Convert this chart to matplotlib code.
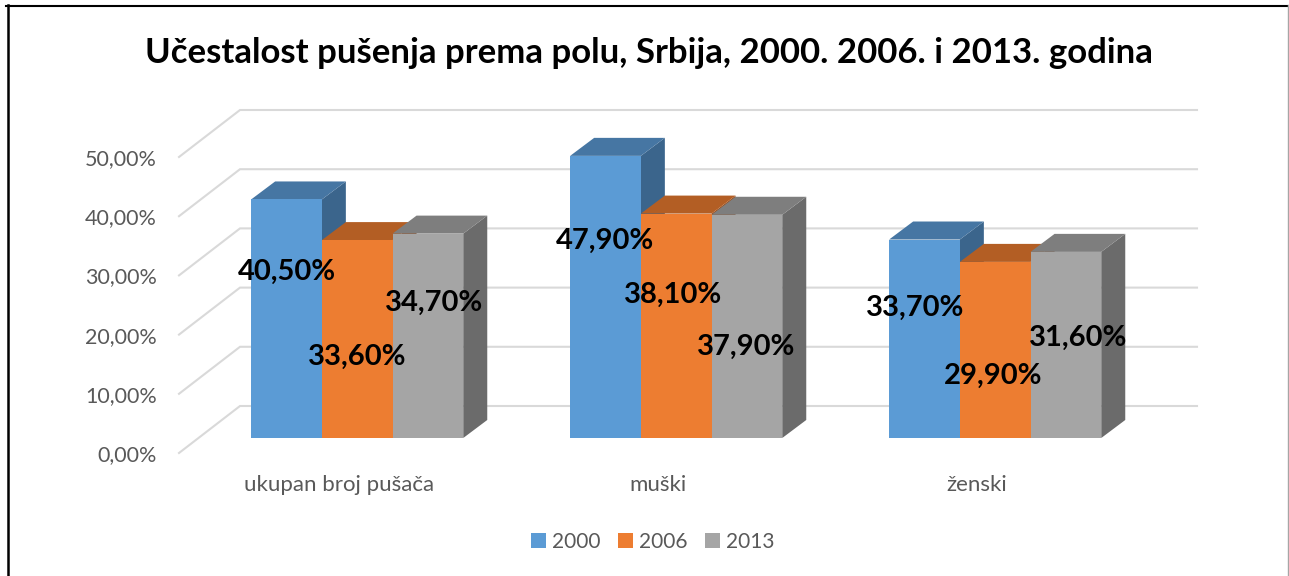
import matplotlib
matplotlib.use("Agg")
import matplotlib.pyplot as plt
from matplotlib.lines import Line2D

W, H = 1289, 576

categories = ['ukupan broj pušača', 'muški', 'ženski']
years = ['2000', '2006', '2013']
values_2000 = [40.5, 47.9, 33.7]
values_2006 = [33.6, 38.1, 29.9]
values_2013 = [34.7, 37.9, 31.6]
y_ticks = [0, 10, 20, 30, 40, 50]
# data labels were placed by hand in the original, pixel centres
label_px_2000 = [(287, 272), (605, 241), (915, 308)]
label_px_2006 = [(357, 357), (673, 295), (993, 376)]
label_px_2013 = [(434, 303), (746, 347), (1078, 338)]

plt.rcParams['font.family'] = ['Lato', 'DejaVu Sans']

front = ['#5B9BD5', '#ED7D31', '#A5A5A5']
top = ['#4676A3', '#B35E24', '#7E7E7E']
side = ['#3B658C', '#9A5020', '#6B6B6B']
GREY_TEXT = '#595959'
GRID = '#D9D9D9'

PX_X = 319.0   # pixels per category
PX_Y = 5.89    # pixels per percent, bars
PX_Y_WALL = 5.92
X0 = 357.2     # pixel of category 0
LEFT, RIGHT = 179, 1197


def box(bottom_px, scale):
    return [LEFT / W, 1 - bottom_px / H, (RIGHT - LEFT) / W, 60 * scale / H]


def x_lim():
    return (LEFT - X0) / PX_X, (RIGHT - X0) / PX_X


fig = plt.figure(figsize=(W / 100, H / 100), dpi=100, facecolor='white')

# back wall and the axis labels
wall = fig.add_axes(box(453, PX_Y_WALL))
wall.set_xlim(*x_lim())
wall.set_ylim(0, 60)
wall.patch.set_visible(False)
for s in wall.spines.values():
    s.set_visible(False)
depth_x = 61 / PX_X
depth_y = 47 / PX_Y_WALL
x_left = x_lim()[0]
x_right = x_lim()[1]
for t in y_ticks:
    wall.plot([x_left, x_left + depth_x, x_right], [t, t + depth_y, t + depth_y],
              color=GRID, lw=1.5, clip_on=False, solid_joinstyle='miter')
wall.set_yticks(y_ticks)
wall.set_yticklabels([f'{t:.2f}'.replace('.', ',') + '%' for t in y_ticks],
                     fontsize=15.5, color=GREY_TEXT)
wall.set_xticks([i - 18.5 / PX_X for i in range(len(categories))])
wall.set_xticklabels(categories, fontsize=16, color=GREY_TEXT)
wall.tick_params(axis='y', length=0, pad=16)
wall.tick_params(axis='x', length=0, pad=16)

# bars, front plane
ax = fig.add_axes(box(438, PX_Y))
ax.set_xlim(*x_lim())
ax.set_ylim(0, 60)
ax.axis('off')
bar_w = 70.7 / PX_X
dx = 24 / PX_X
dy = 18 / PX_Y
series = [values_2000, values_2006, values_2013]
handles = []
for k, vals in enumerate(series):
    xs = [i + (k - 1) * bar_w for i in range(len(vals))]
    for x, v in zip(xs, vals):
        l, r = x - bar_w / 2, x + bar_w / 2
        ax.fill([r, r + dx, r + dx, r], [0, dy, v + dy, v], color=side[k], lw=0, zorder=2 + k)
        ax.fill([l, l + dx, r + dx, r], [v, v + dy, v + dy, v], color=top[k], lw=0, zorder=2 + k)
    b = ax.bar(xs, vals, width=bar_w, color=front[k], lw=0, zorder=2 + k, label=years[k])
    handles.append(b)

labels_px = [label_px_2000, label_px_2006, label_px_2013]
for vals, pos in zip(series, labels_px):
    for v, (px, py) in zip(vals, pos):
        fig.text(px / W, 1 - py / H, f'{v:.2f}'.replace('.', ',') + '%', fontsize=21,
                 fontweight='bold', color='black', ha='center', va='center', zorder=10)

fig.text(648.5 / W, 1 - 53 / H, 'Učestalost pušenja prema polu, Srbija, 2000. 2006. i 2013. godina',
         fontsize=25, fontweight='bold', color='black', ha='center', va='center')

fig.legend(handles=handles, labels=years, loc='center', bbox_to_anchor=(653 / W, 1 - 542 / H),
           ncol=3, frameon=False, fontsize=15, labelcolor=GREY_TEXT, handlelength=0.7,
           handleheight=0.7, handletextpad=0.3, columnspacing=0.85, borderpad=0)

# picture frame
fig.add_artist(Line2D([7.5 / W, 7.5 / W], [0, 1 - 5 / H], color='black', lw=1.8))
fig.add_artist(Line2D([6 / W, 1288 / W], [1 - 5.5 / H, 1 - 5.5 / H], color='black', lw=1.5))
fig.add_artist(Line2D([1287.5 / W, 1287.5 / W], [0, 1 - 5 / H], color='#A6A6A6', lw=1))

fig.savefig('out.png', dpi=100)
